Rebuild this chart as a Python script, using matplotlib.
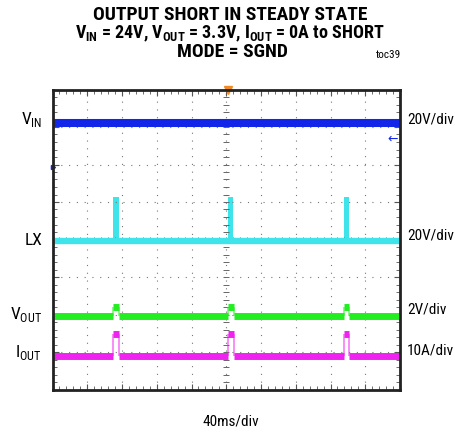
import numpy as np
import matplotlib
matplotlib.use("Agg")
import matplotlib.pyplot as plt

cond = "Roboto Condensed"
plt.rcParams["font.family"] = [cond, "DejaVu Sans"]
plt.rcParams["mathtext.fontset"] = "custom"
plt.rcParams["mathtext.rm"] = cond
plt.rcParams["mathtext.bf"] = cond + ":bold"

# scope readings (time in ms, levels in divisions from bottom of screen)
pulse_starts = [70, 202, 335]
lx_pulse_width = 6.0
out_pulse_width = 6.5

vin_level = 7.12
vin_ground = 5.93
trig_level = 6.68
lx_base, lx_top = 3.97, 5.14
vout_base, vout_top = 1.96, 2.19
iout_base, iout_top = 0.90, 1.47

left_labels = [r"V$_{\mathrm{IN}}$", "LX", r"V$_{\mathrm{OUT}}$", r"I$_{\mathrm{OUT}}$"]
left_label_y = [7.2, 3.97, 1.99, 0.99]
right_labels = ["20V/div", "20V/div", "2V/div", "10A/div"]
right_label_y = [7.21, 4.1, 2.13, 1.05]

c_vin = "#1226ea"
c_lx = "#3fe3ea"
c_vout = "#22ee22"
c_iout = "#f022f0"

fig = plt.figure(figsize=(4.55, 4.33), dpi=100)
ax = fig.add_axes([52.5 / 455, 43.5 / 433, 347.5 / 455, 300 / 433])
ax.set_xlim(0, 400)
ax.set_ylim(0, 8)

# graticule
ax.set_xticks(np.arange(0, 401, 40))
ax.set_yticks(np.arange(0, 8.01, 1))
ax.set_xticks(np.arange(0, 401, 8), minor=True)
ax.set_yticks(np.arange(0, 8.01, 0.2), minor=True)
ax.tick_params(which="both", direction="in", top=True, right=True,
               labelbottom=False, labelleft=False, color="#555555")
ax.tick_params(which="major", length=4, width=0.8)
ax.tick_params(which="minor", length=3, width=0.6)
ax.grid(which="major", linestyle=(0, (1, 6)), color="#777777", lw=0.8)
ax.plot(np.full(41, 200), np.arange(0, 8.01, 0.2), ls="none", marker="_",
        ms=5, mew=0.7, color="#666666")
ax.plot(np.arange(0, 401, 8), np.full(51, 4), ls="none", marker="|",
        ms=5, mew=0.7, color="#666666")
for s in ax.spines.values():
    s.set_linewidth(2)
    s.set_color("#222222")


def pulsed(base, top, width, color, lw):
    edges = [0]
    for p in pulse_starts:
        edges += [p, p + width]
    edges.append(400)
    starts = edges[0::2]
    ends = edges[1::2]
    ax.hlines([base] * len(starts), starts, ends, color=color, lw=lw)
    ps = np.array(pulse_starts)
    ax.hlines([top] * len(ps), ps, ps + width, color=color, lw=lw)
    ax.vlines(np.concatenate([ps, ps + width]), base, top, color=color, lw=1.2, alpha=0.6)


ax.hlines(vin_level, 0, 400, color=c_vin, lw=5.8)
ax.hlines(lx_base, 0, 400, color=c_lx, lw=4.6)
ax.bar(pulse_starts, lx_top - lx_base, width=lx_pulse_width, bottom=lx_base,
       align="edge", color=c_lx)
pulsed(vout_base, vout_top, out_pulse_width, c_vout, 5.0)
pulsed(iout_base, iout_top, out_pulse_width, c_iout, 5.0)

# markers
ax.plot([201.5], [8.0], marker="v", ms=6, color="#f08a24", clip_on=False)
ax.text(398, trig_level, "\u2190", color=c_vin, fontsize=9, ha="right",
        va="center", family=["DejaVu Sans"])
ax.plot([0.5], [vin_ground], marker=">", ms=3, color=c_vin, clip_on=False)

for t, y in zip(left_labels, left_label_y):
    ax.text(-12, y, t, ha="right", va="center", fontsize=12.5, clip_on=False)
for t, y in zip(right_labels, right_label_y):
    ax.text(408, y, t, ha="left", va="center", fontsize=11, clip_on=False)

fig.text(231 / 455, 1 - 422 / 433, "40ms/div", ha="center", va="center", fontsize=11)

fig.text(230 / 455, 1 - 15 / 433, "OUTPUT SHORT IN STEADY STATE",
         ha="center", va="center", fontsize=14, fontweight="bold")
fig.text(230 / 455, 1 - 34 / 433,
         r"V$_{\mathbf{IN}}$ = 24V, V$_{\mathbf{OUT}}$ = 3.3V, I$_{\mathbf{OUT}}$ = 0A to SHORT",
         ha="center", va="center", fontsize=13, fontweight="bold")
fig.text(232 / 455, 1 - 52 / 433, "MODE = SGND",
         ha="center", va="center", fontsize=14, fontweight="bold")
fig.text(388 / 455, 1 - 55 / 433, "toc39", ha="center", va="center", fontsize=8)

fig.savefig("out.png", dpi=100)
